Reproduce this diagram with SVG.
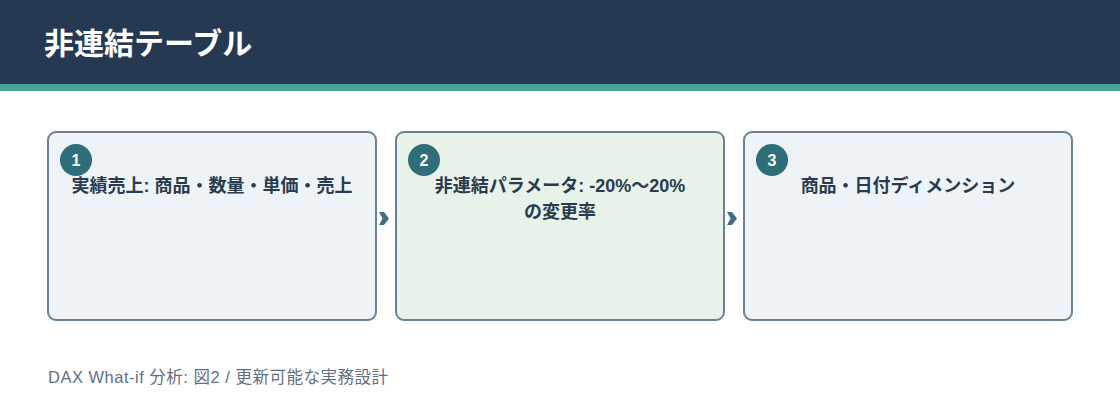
<svg xmlns="http://www.w3.org/2000/svg" width="1120" height="420" viewBox="0 0 1120 420">
<style>
.box{stroke:#6b8194;stroke-width:2}
.lbl{font-family:"Liberation Sans","Noto Sans CJK JP",sans-serif;font-size:18px;font-weight:700;fill:#2a3b4f;text-anchor:middle}
.num{font-family:"Liberation Sans","Noto Sans",sans-serif;font-size:16px;font-weight:700;fill:#fff;text-anchor:middle}
.badge{fill:#2e6e78}
.conn{fill:#3f6f85}
</style>
<defs>
<path id="chev" d="M0,0 L5,0 L10,6.5 L5,13 L0,13 L3.5,6.5 Z"/>
</defs>
<rect x="0" y="0" width="1120" height="84" fill="#253a52"/>
<rect x="0" y="84" width="1120" height="7" fill="#48a39a"/>
<text x="44" y="54" font-family="Noto Sans CJK JP,sans-serif" font-size="30" font-weight="700" fill="#fff">非連結テーブル</text>
<g id="connectors">
<use class="conn" href="#chev" x="379" y="212"/>
<use class="conn" href="#chev" x="727" y="212"/>
</g>
<g id="node1">
<rect class="box" x="48" y="132" width="328" height="188" rx="8" fill="#eef3f8"/>
<circle class="badge" cx="76" cy="160" r="16"/>
<text class="num" x="76" y="166">1</text>
<text class="lbl" x="212" y="192">実績売上: 商品・数量・単価・売上</text>
</g>
<g id="node2">
<rect class="box" x="396" y="132" width="328" height="188" rx="8" fill="#e7f2e8"/>
<circle class="badge" cx="424" cy="160" r="16"/>
<text class="num" x="424" y="166">2</text>
<text class="lbl" x="560" y="192">非連結パラメータ: -20%〜20%</text>
<text class="lbl" x="560" y="218">の変更率</text>
</g>
<g id="node3">
<rect class="box" x="744" y="132" width="328" height="188" rx="8" fill="#eef3f8"/>
<circle class="badge" cx="772" cy="160" r="16"/>
<text class="num" x="772" y="166">3</text>
<text class="lbl" x="908" y="192">商品・日付ディメンション</text>
</g>
<text x="48" y="383" font-family="Liberation Sans,Noto Sans CJK JP,sans-serif" font-size="16.5" letter-spacing="0.5" fill="#5f6f7f">DAX What-if 分析: 図2 / 更新可能な実務設計</text>
</svg>
